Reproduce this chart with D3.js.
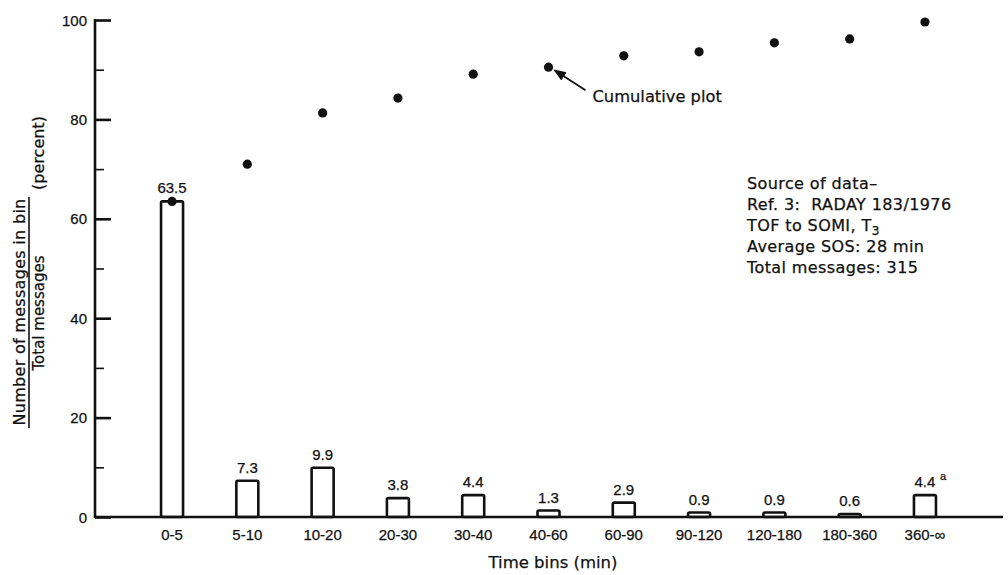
<!DOCTYPE html>
<html>
<head>
<meta charset="utf-8">
<script src="https://cdn.jsdelivr.net/npm/d3@7"></script>
<style>
  html, body { margin: 0; padding: 0; background: #fff; }
  svg { display: block; }
  text { font-family: "Liberation Sans", Arial, Helvetica, sans-serif; fill: #111; stroke: #111; stroke-width: 0.25; }
  text.wide { font-family: "DejaVu Sans", Verdana, sans-serif; }
</style>
</head>
<body>
<svg id="chart" width="1008" height="575"></svg>
<script>
// ---- data ----
const categories = ["0-5", "5-10", "10-20", "20-30", "30-40", "40-60", "60-90", "90-120", "120-180", "180-360", "360-\u221e"];
const binPercent = [63.5, 7.3, 9.9, 3.8, 4.4, 1.3, 2.9, 0.9, 0.9, 0.6, 4.4];
const binLabels = ["63.5", "7.3", "9.9", "3.8", "4.4", "1.3", "2.9", "0.9", "0.9", "0.6", "4.4"];
const cumulative = [63.5, 71.0, 81.3, 84.3, 89.1, 90.5, 92.8, 93.6, 95.4, 96.2, 99.6];
const majorTicks = [0, 20, 40, 60, 80, 100];
const minorTicks = [10, 30, 50, 70, 90];
const sourceLines = ["Source of data\u2013", "Ref. 3:  RADAY 183/1976", "TOF to SOMI, T", "Average SOS: 28 min", "Total messages: 315"];

const svg = d3.select("#chart");
const ink = "#111";

const x = d3.scaleBand().domain(categories).range([134.4, 962.6]).padding(0);
const y = d3.scaleLinear().domain([0, 100]).range([517, 20]);
const barW = 22;
const cx = c => x(c) + x.bandwidth() / 2;

// axes lines
svg.append("line").attr("x1", 95).attr("x2", 1003).attr("y1", y(0)).attr("y2", y(0))
  .attr("stroke", ink).attr("stroke-width", 2.6);
svg.append("line").attr("x1", 95).attr("x2", 95).attr("y1", y(100) - 1).attr("y2", y(0) + 1)
  .attr("stroke", ink).attr("stroke-width", 2.6);

// y axis via d3 axis (ticks inward)
const yAxis = svg.append("g").attr("transform", "translate(95,0)")
  .call(d3.axisRight(y).tickValues(majorTicks).tickSize(16).tickFormat(""));
yAxis.select(".domain").remove();
yAxis.selectAll("line").attr("stroke", ink).attr("stroke-width", 2.6);
const yMinor = svg.append("g").attr("transform", "translate(95,0)")
  .call(d3.axisRight(y).tickValues(minorTicks).tickSize(9).tickFormat(""));
yMinor.select(".domain").remove();
yMinor.selectAll("line").attr("stroke", ink).attr("stroke-width", 1.6);

svg.selectAll("text.ytick").data(majorTicks).enter().append("text")
  .attr("class", "ytick")
  .attr("x", 87).attr("y", d => y(d) + 5.5)
  .attr("text-anchor", "end").attr("font-size", 15)
  .text(d => d);

// bars
svg.selectAll("rect.bar").data(categories).enter().append("rect")
  .attr("class", "bar")
  .attr("x", c => cx(c) - barW / 2)
  .attr("width", barW)
  .attr("y", (c, i) => y(binPercent[i]))
  .attr("height", (c, i) => y(0) - y(binPercent[i]))
  .attr("fill", "none").attr("stroke", ink).attr("stroke-width", 2.6)
  .attr("rx", 1.5);

// bar labels
svg.selectAll("text.blab").data(categories).enter().append("text")
  .attr("class", "blab")
  .attr("x", c => cx(c))
  .attr("y", (c, i) => y(binPercent[i]) - 8)
  .attr("text-anchor", "middle").attr("font-size", 15)
  .text((c, i) => binLabels[i]);

// superscript a on last label
const last = categories[categories.length - 1];
svg.append("text").attr("x", cx(last) + 15).attr("y", y(binPercent[binPercent.length - 1]) - 15)
  .attr("font-size", 11).text("a");

// x labels
svg.selectAll("text.xlab").data(categories).enter().append("text")
  .attr("class", "xlab")
  .attr("x", c => cx(c)).attr("y", 540)
  .attr("text-anchor", "middle").attr("font-size", 15)
  .text(c => c);

svg.append("text").attr("class", "wide").attr("x", 553).attr("y", 568).attr("text-anchor", "middle")
  .attr("font-size", 16.5).text("Time bins (min)");

// cumulative dots
svg.selectAll("circle.cum").data(categories).enter().append("circle")
  .attr("class", "cum")
  .attr("cx", c => cx(c)).attr("cy", (c, i) => y(cumulative[i]))
  .attr("r", 4.6).attr("fill", ink);

// annotation arrow
const ax = cx(categories[5]), ay = y(cumulative[5]);
svg.append("defs").append("marker").attr("id", "ah").attr("viewBox", "0 0 10 10")
  .attr("refX", 9).attr("refY", 5).attr("markerWidth", 7).attr("markerHeight", 7)
  .attr("orient", "auto")
  .append("path").attr("d", "M0,1 L10,5 L0,9 z").attr("fill", ink);
svg.append("line").attr("x1", ax + 37).attr("y1", ay + 23).attr("x2", ax + 6).attr("y2", ay + 3)
  .attr("stroke", ink).attr("stroke-width", 1.8).attr("marker-end", "url(#ah)");
svg.append("text").attr("class", "wide").attr("x", ax + 44).attr("y", ay + 35)
  .attr("font-size", 16.3).text("Cumulative plot");

// source block
const src = svg.append("text").attr("class", "wide").attr("x", 747).attr("y", 189)
  .attr("font-size", 16).attr("letter-spacing", 0.4)
  .attr("xml:space", "preserve").style("white-space", "pre");
sourceLines.forEach((t, i) => {
  src.append("tspan").attr("x", 747).attr("y", 189 + i * 21).text(t);
  if (i === 2) {
    src.append("tspan").attr("dy", 4).attr("font-size", 12).text("3");
  }
});

// y-axis title (rotated fraction)
const yt = svg.append("g");
yt.append("text").attr("class", "wide").attr("transform", "translate(25,312) rotate(-90)")
  .attr("text-anchor", "middle").attr("font-size", 16).attr("letter-spacing", 0.3)
  .text("Number of messages in bin");
yt.append("line").attr("x1", 29).attr("x2", 29).attr("y1", 197).attr("y2", 428)
  .attr("stroke", ink).attr("stroke-width", 1.6);
yt.append("text").attr("class", "wide").attr("transform", "translate(44,313) rotate(-90)")
  .attr("text-anchor", "middle").attr("font-size", 15).text("Total messages");
yt.append("text").attr("class", "wide").attr("transform", "translate(44,153) rotate(-90)")
  .attr("text-anchor", "middle").attr("font-size", 16).text("(percent)");
</script>
</body>
</html>
